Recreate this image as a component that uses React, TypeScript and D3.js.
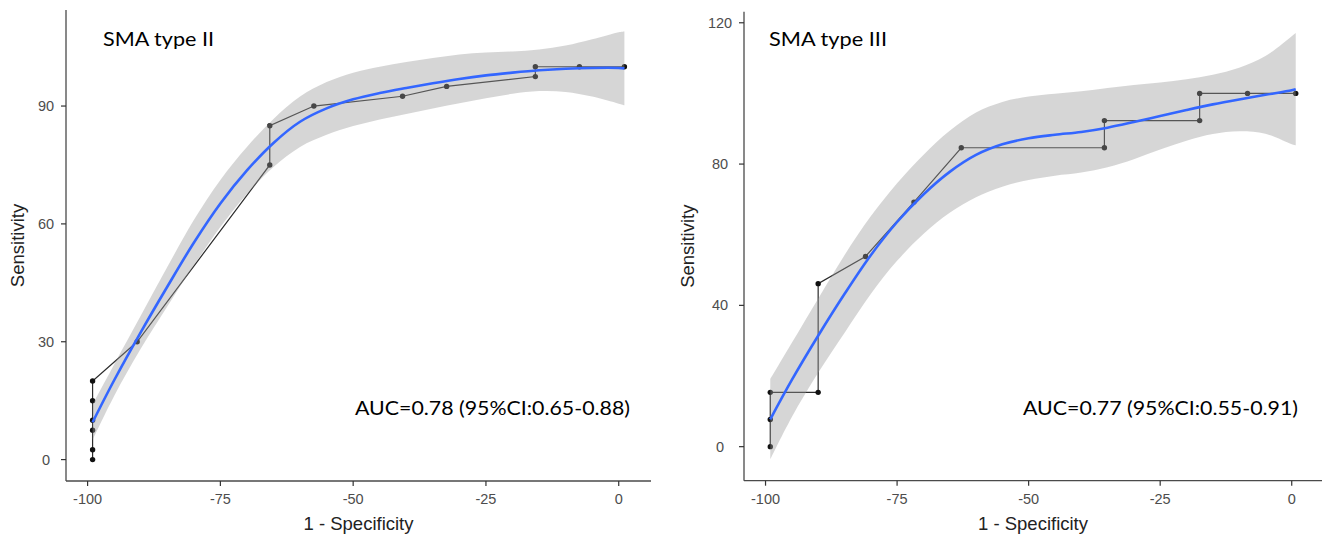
import React from 'react';
import { scaleLinear, line, area, extent, curveCatmullRom } from 'd3';

// tick labels
const X_TICKS = [-100, -75, -50, -25, 0];
const LEFT_Y_TICKS = [0, 30, 60, 90];
const RIGHT_Y_TICKS = [0, 40, 80, 120];

// SMA type II: empirical ROC steps
const LEFT_ROC_X = [-99.06, -99.06, -99.06, -99.06, -99.06, -99.06, -90.67, -65.7, -65.7, -57.4, -40.7, -32.4, -15.7, -15.7, -7.4, 1.07];
const LEFT_ROC_Y = [0, 2.5, 7.5, 10, 15, 20, 30, 75, 85, 90, 92.5, 95, 97.5, 100, 100, 100];

// SMA type II: loess fit and 95% band
const LEFT_FIT_X = [-99.06, -95, -90, -85, -80, -75, -70, -65, -60, -55, -50, -45, -40, -35, -30, -25, -20, -15, -10, -5, 0, 1.07];
const LEFT_FIT = [9.5, 20.2, 32.4, 44.0, 55.2, 65.2, 73.6, 80.6, 86.0, 89.4, 91.7, 93.3, 94.6, 95.8, 96.9, 97.8, 98.5, 99.1, 99.5, 99.7, 99.7, 99.6];
const LEFT_HI = [14.0, 24.2, 36.6, 49.0, 61.0, 71.2, 79.6, 86.7, 92.4, 96.1, 98.5, 100.0, 101.2, 102.2, 103.1, 103.6, 103.9, 104.4, 105.4, 107.0, 108.8, 109.0];
const LEFT_LO = [5.0, 16.2, 28.2, 39.0, 49.4, 59.2, 67.6, 74.5, 79.6, 82.7, 84.9, 86.6, 88.0, 89.4, 90.7, 92.0, 93.1, 93.8, 93.6, 92.4, 90.6, 90.2];

// SMA type III: empirical ROC steps
const RIGHT_ROC_X = [-99.1, -99.1, -99.1, -90.0, -90.0, -81.0, -71.8, -62.8, -35.6, -35.6, -17.5, -17.5, -8.4, 0.76];
const RIGHT_ROC_Y = [0, 7.69, 15.38, 15.38, 46.15, 53.85, 69.23, 84.62, 84.62, 92.31, 92.31, 100, 100, 100];

// SMA type III: loess fit and 95% band
const RIGHT_FIT_X = [-99.1, -95, -90, -85, -80, -75, -70, -65, -60, -55, -50, -45, -40, -35, -30, -25, -20, -15, -10, -5, 0, 0.76];
const RIGHT_FIT = [7.75, 18.9, 31.4, 43.2, 54.2, 63.6, 71.4, 77.8, 82.6, 85.6, 87.3, 88.3, 89.1, 90.3, 91.9, 93.6, 95.3, 96.9, 98.3, 99.6, 100.9, 101.2];
const RIGHT_HI = [19.1, 29.4, 41.9, 54.2, 65.2, 74.6, 82.6, 89.4, 94.6, 97.6, 99.1, 99.9, 100.6, 101.5, 102.4, 103.1, 104.0, 105.3, 107.3, 110.6, 116.2, 117.1];
const RIGHT_LO = [-3.6, 8.4, 20.9, 32.2, 43.2, 52.6, 60.2, 66.2, 70.6, 73.6, 75.5, 76.7, 77.6, 79.1, 81.4, 84.1, 86.6, 88.5, 89.3, 88.6, 85.6, 85.3];

const AXIS_FONT = '"Liberation Sans", Arial, sans-serif';
const NOTE_FONT = 'Lato, "Open Sans", sans-serif';

// ggplot style 5% expansion on each side
const expand = (d: [number, number]): [number, number] => {
  const pad = (d[1] - d[0]) * 0.05;
  return [d[0] - pad, d[1] + pad];
};

interface PanelProps {
  frame: { x0: number; x1: number; y0: number; y1: number; ylabX: number; ytickX: number; titleX: number };
  rocX: number[];
  rocY: number[];
  fitX: number[];
  fit: number[];
  lo: number[];
  hi: number[];
  yTicks: number[];
  title: string;
  titleWidth: number;
  auc: string;
  aucRight: number;
}

const Panel: React.FC<PanelProps> = ({ frame, rocX, rocY, fitX, fit, lo, hi, yTicks, title, titleWidth, auc, aucRight }) => {
  const { x0, x1, y0, y1 } = frame;
  const xScale = scaleLinear()
    .domain(expand(extent([...rocX, ...fitX]) as [number, number]))
    .range([x0, x1]);
  const yScale = scaleLinear()
    .domain(expand(extent([...rocY, ...lo, ...hi]) as [number, number]))
    .range([y1, y0]);

  const rocPath = line<number>()
    .x((_, i) => xScale(rocX[i]))
    .y((_, i) => yScale(rocY[i]))(rocX) as string;

  const band = area<number>()
    .curve(curveCatmullRom)
    .x((_, i) => xScale(fitX[i]))
    .y0((_, i) => yScale(lo[i]))
    .y1((_, i) => yScale(hi[i]))(fitX) as string;

  const smooth = line<number>()
    .curve(curveCatmullRom)
    .x((_, i) => xScale(fitX[i]))
    .y((_, i) => yScale(fit[i]))(fitX) as string;

  const midX = (x0 + x1) / 2;
  const midY = (y0 + y1) / 2;

  return (
    <g>
      {/* roc steps and points, under the band like ggplot draws them */}
      <path d={rocPath} fill="none" stroke="#2b2b2b" strokeWidth={1.2} />
      {rocX.map((x, i) => (
        <circle key={i} cx={xScale(x)} cy={yScale(rocY[i])} r={2.7} fill="#111" />
      ))}
      <path d={band} fill="#999999" fillOpacity={0.4} />
      <path d={smooth} fill="none" stroke="#3366FF" strokeWidth={2.6} />

      {/* axes */}
      <line x1={x0} x2={x1} y1={y1} y2={y1} stroke="#4a4a4a" strokeWidth={1.3} />
      <line x1={x0} x2={x0} y1={y0} y2={y1} stroke="#4a4a4a" strokeWidth={1.3} />
      {X_TICKS.map(t => (
        <g key={t}>
          <line x1={xScale(t)} x2={xScale(t)} y1={y1} y2={y1 + 5} stroke="#333" strokeWidth={1.2} />
          <text x={xScale(t)} y={504} textAnchor="middle" fontFamily={AXIS_FONT} fontSize={14.5} fill="#4D4D4D">
            {t}
          </text>
        </g>
      ))}
      {yTicks.map(t => (
        <g key={t}>
          <line x1={x0 - 5} x2={x0} y1={yScale(t)} y2={yScale(t)} stroke="#333" strokeWidth={1.2} />
          <text x={frame.ytickX} y={yScale(t)} dy="0.35em" textAnchor="middle" fontFamily={AXIS_FONT} fontSize={14.5} fill="#4D4D4D">
            {t}
          </text>
        </g>
      ))}
      <text x={midX} y={530} textAnchor="middle" fontFamily={AXIS_FONT} fontSize={18.5} fill="#222">
        1 - Specificity
      </text>
      <text
        transform={`translate(${frame.ylabX},${midY}) rotate(-90)`}
        textAnchor="middle"
        fontFamily={AXIS_FONT}
        fontSize={18.5}
        fill="#222"
      >
        Sensitivity
      </text>

      {/* annotations */}
      <text x={frame.titleX} y={46} fontFamily={NOTE_FONT} fontSize={19} fill="#000"
        textLength={titleWidth} lengthAdjust="spacingAndGlyphs">
        {title}
      </text>
      <text x={aucRight - 275} y={415} fontFamily={NOTE_FONT} fontSize={19} fill="#000"
        textLength={275} lengthAdjust="spacingAndGlyphs">
        {auc}
      </text>
    </g>
  );
};

export default function App() {
  return (
    <svg
      width={1323}
      height={537}
      style={{ position: 'absolute', left: 0, top: 0, background: '#fff' }}
    >
      <Panel
        frame={{ x0: 66, x1: 651, y0: 10, y1: 481, ylabX: 24, ytickX: 46, titleX: 103 }}
        rocX={LEFT_ROC_X}
        rocY={LEFT_ROC_Y}
        fitX={LEFT_FIT_X}
        fit={LEFT_FIT}
        lo={LEFT_LO}
        hi={LEFT_HI}
        yTicks={LEFT_Y_TICKS}
        title="SMA type II"
        titleWidth={111}
        auc="AUC=0.78 (95%CI:0.65-0.88)"
        aucRight={630}
      />
      <Panel
        frame={{ x0: 744, x1: 1322, y0: 11.7, y1: 480.7, ylabX: 694, ytickX: 720, titleX: 769 }}
        rocX={RIGHT_ROC_X}
        rocY={RIGHT_ROC_Y}
        fitX={RIGHT_FIT_X}
        fit={RIGHT_FIT}
        lo={RIGHT_LO}
        hi={RIGHT_HI}
        yTicks={RIGHT_Y_TICKS}
        title="SMA type III"
        titleWidth={118}
        auc="AUC=0.77 (95%CI:0.55-0.91)"
        aucRight={1298}
      />
    </svg>
  );
}
